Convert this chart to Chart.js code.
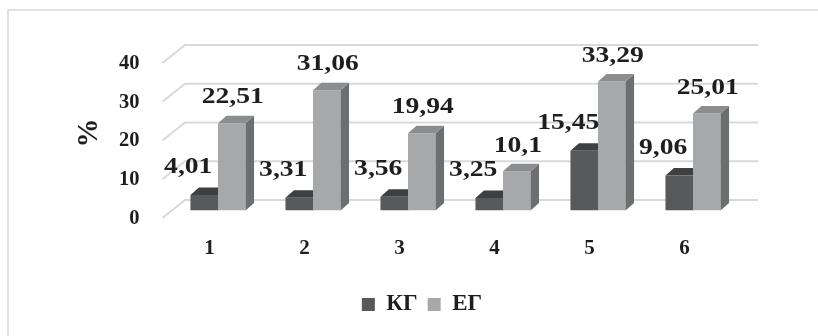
<!DOCTYPE html>
<html>
<head>
<meta charset="utf-8">
<script src="https://cdn.jsdelivr.net/npm/chart.js@4"></script>
<style>
  html, body { margin: 0; padding: 0; background: #fff; }
  #wrap { width: 818px; height: 336px; position: relative; }
</style>
</head>
<body>
<div id="wrap"><canvas id="groupChart"></canvas></div>
<script>
const categories = ["1", "2", "3", "4", "5", "6"];
const kgValues = [4.01, 3.31, 3.56, 3.25, 15.45, 9.06];
const egValues = [22.51, 31.06, 19.94, 10.1, 33.29, 25.01];
const yTicks = [0, 10, 20, 30, 40];

// shades for the fake 3d look: front, top, side
const kgShades = { front: "#58595a", top: "#3e3f40", side: "#474849" };
const egShades = { front: "#a6a8a9", top: "#8b8d8e", side: "#6c6e6f" };

const barDepth = { dx: 8.5, dy: -7.5 };
const wallBack = { dx: 14.5, dy: -10.5 };
const wallFront = { dx: -8, dy: 7.5 };

const textFont = "'Liberation Serif'";
const fmt = v => String(v).replace(".", ",");

Chart.defaults.font.family = textFont;
Chart.defaults.font.weight = "bold";
Chart.defaults.color = "#1e1e1e";

function poly(ctx, pts, color) {
    ctx.fillStyle = color;
    ctx.beginPath();
    ctx.moveTo(pts[0][0], pts[0][1]);
    for (let i = 1; i < pts.length; i++) ctx.lineTo(pts[i][0], pts[i][1]);
    ctx.closePath();
    ctx.fill();
}

function drawFaces(ctx, bar, shades) {
    const {x, y, base, width} = bar.getProps(["x", "y", "base", "width"], true);
    const x0 = x - width / 2, x1 = x + width / 2;
    const {dx, dy} = barDepth;
    poly(ctx, [[x1, y], [x1 + dx, y + dy], [x1 + dx, base + dy], [x1, base]], shades.side);
    poly(ctx, [[x0, y], [x0 + dx, y + dy], [x1 + dx, y + dy], [x1, y]], shades.top);
}

// value labels come out a bit wide, so stretch them through a scaleX
function valueLabel(ctx, text, x, y) {
    ctx.save();
    ctx.translate(x, y);
    ctx.scale(1.15, 1);
    ctx.fillText(text, 0, 0);
    ctx.restore();
}

const bars3d = {
    id: "bars3d",
    beforeDraw(chart) {
        const ctx = chart.ctx;
        ctx.save();
        ctx.strokeStyle = "#d9d9d9";
        ctx.lineWidth = 1.5;
        ctx.beginPath();
        ctx.moveTo(8, chart.height);
        ctx.lineTo(8, 10);
        ctx.lineTo(chart.width, 10);
        ctx.stroke();
        ctx.restore();
    },
    beforeDatasetsDraw(chart) {
        const {ctx, chartArea: a, scales: {y}} = chart;
        ctx.save();
        ctx.strokeStyle = "#d9d9d9";
        ctx.lineWidth = 2;
        yTicks.forEach(v => {
            const py = y.getPixelForValue(v);
            ctx.beginPath();
            ctx.moveTo(a.left + wallFront.dx, py + wallFront.dy);
            ctx.lineTo(a.left + wallBack.dx, py + wallBack.dy);
            ctx.lineTo(a.right + wallBack.dx + 3, py + wallBack.dy);
            ctx.stroke();
        });
        // КГ faces go first so the ЕГ fronts cover them
        chart.getDatasetMeta(0).data.forEach(bar => drawFaces(ctx, bar, kgShades));
        ctx.restore();
    },
    afterDatasetsDraw(chart) {
        const ctx = chart.ctx;
        ctx.save();
        chart.getDatasetMeta(1).data.forEach(bar => drawFaces(ctx, bar, egShades));

        ctx.font = "bold 24px " + textFont;
        ctx.fillStyle = "#1e1e1e";
        ctx.textAlign = "center";
        ctx.textBaseline = "middle";
        chart.getDatasetMeta(0).data.forEach((bar, i) => {
            valueLabel(ctx, fmt(kgValues[i]), bar.x - 16, bar.y - 28);
        });
        chart.getDatasetMeta(1).data.forEach((bar, i) => {
            valueLabel(ctx, fmt(egValues[i]), bar.x + 1, bar.y - 26);
        });
        ctx.restore();
    }
};

new Chart(document.getElementById("groupChart"), {
    type: "bar",
    data: {
        labels: categories,
        datasets: [
            { label: "КГ", data: kgValues, backgroundColor: kgShades.front },
            { label: "ЕГ", data: egValues, backgroundColor: egShades.front }
        ]
    },
    options: {
        responsive: true,
        maintainAspectRatio: false,
        animation: false,
        events: [],
        datasets: { bar: { categoryPercentage: 0.58, barPercentage: 1 } },
        layout: { padding: { top: 55.5, left: 26, right: 0, bottom: 10 } },
        plugins: {
            tooltip: { enabled: false },
            legend: {
                position: "bottom",
                labels: {
                    boxWidth: 13,
                    boxHeight: 13,
                    padding: 10,
                    font: { size: 23, weight: "bold" }
                }
            }
        },
        scales: {
            x: {
                grid: { display: false, drawTicks: false },
                border: { display: false },
                ticks: { padding: 25, labelOffset: -8.5, font: { size: 21 } },
                afterFit: s => { s.height = 72.5; }
            },
            y: {
                min: 0,
                max: 40,
                grid: { display: false, drawTicks: false },
                border: { display: false },
                ticks: { padding: 31, labelOffset: 8, font: { size: 20.5 } },
                afterBuildTicks: s => { s.ticks = yTicks.map(v => ({ value: v })); },
                title: { display: true, text: "%", font: { size: 29 }, padding: { top: 46 } },
                afterFit: s => { s.width = 144.5; }
            },
            // empty strip on the right, keeps the legend where it belongs
            spacer: {
                type: "linear",
                position: "right",
                grid: { display: false, drawTicks: false },
                border: { display: false },
                ticks: { display: false },
                afterFit: s => { s.width = 77.5; }
            }
        }
    },
    plugins: [bars3d]
});
</script>
</body>
</html>
